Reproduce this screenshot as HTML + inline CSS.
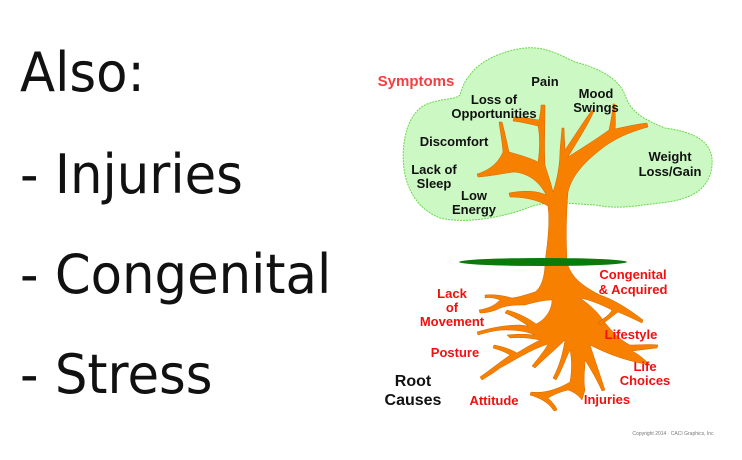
<!DOCTYPE html>
<html><head><style>
html,body{margin:0;padding:0;background:#fff;width:742px;height:460px;overflow:hidden}
.h{position:absolute;left:20px;font-family:"Comic Sans MS","DejaVu Sans",sans-serif;font-size:54px;color:#111;transform:scaleX(0.95);transform-origin:0 0;white-space:nowrap}
svg{position:absolute;left:0;top:0}
</style></head><body>
<div class="h" style="top:41px">Also:</div>
<div class="h" style="top:143px">- Injuries</div>
<div class="h" style="top:243px">- Congenital</div>
<div class="h" style="top:343px">- Stress</div>
<svg width="742" height="460" viewBox="0 0 742 460" font-family="Liberation Sans, sans-serif" font-weight="bold" font-size="13" text-anchor="middle">
<path d="M470,75 C480,60 505,50 525,48 C545,46 560,55 575,62 C600,68 620,80 625,95 C630,110 640,118 665,128 C695,132 714,142 712,165 C710,190 690,200 660,203 C640,205 620,210 595,205 C570,204 550,200 530,207 C510,215 470,225 440,218 C420,210 410,195 405,175 C400,150 405,115 425,105 C440,98 455,100 460,95 C462,88 465,80 470,75 Z" fill="#ccf8c4" stroke="#6ad84a" stroke-width="1" stroke-dasharray="2,1"/>
<g fill="#f78000" stroke="#d06800" stroke-width="0.5" stroke-linejoin="round">
<path d="M541,105 L545,105 C545,130 544,145 545,165 C548,175 551,183 553,192 C557,180 560,165 560,150 L562,128 L564,128 L565,150 C577,132 586,118 592,110 L594,111 C588,125 578,140 568,157 C582,148 595,140 609,130 C611,120 613,110 613,104 L615,104 C615,115 616,124 615,129 C628,126 638,124 647,123 L648,127 C630,132 615,138 600,150 C585,162 572,175 568,192 C566,215 566,240 567,262 L545,262 C548,240 550,222 548,206 C538,200 525,197 510,197 L509,193 C525,190 538,191 546,195 C540,182 528,173 514,172 C505,173 492,176 478,177 L477,174 C490,170 498,163 503,152 C502,140 500,130 499,122 L502,122 C505,133 507,143 509,152 C520,155 530,158 538,162 C540,150 540,135 538,126 C530,124 521,122 513,121 L514,117 C524,117 532,119 539,120 C540,115 541,110 541,105 Z"/>
<path d="M545,262 L567,262 C570,275 580,285 600,295 C615,300 630,310 643,320 L642,323 C632,318 625,315 618,312 C610,318 606,322 600,325 L598,322 C605,318 610,314 612,310 C600,304 590,300 580,298 C590,305 595,310 600,316 C610,330 620,340 630,345 C640,345 650,344 658,345 L657,348 C648,349 640,350 632,351 C640,355 645,360 650,365 C620,360 600,350 590,345 C595,360 600,375 605,390 L602,391 C596,378 590,368 585,360 C585,370 583,380 585,390 L582,400 C578,395 574,392 568,390 C560,392 555,394 548,398 C553,403 556,406 557,410 L554,411 C548,402 540,398 530,395 L531,392 C545,394 560,388 570,382 C572,370 572,360 570,350 C565,360 562,370 556,380 L553,378 C560,365 563,352 565,340 C555,350 545,358 535,368 L532,366 C540,356 545,350 548,344 C530,350 515,360 500,368 C495,372 490,375 482,380 L480,377 C490,370 500,362 510,355 C505,352 500,350 493,348 L494,345 C505,347 512,350 517,353 C525,348 532,344 540,340 C530,338 520,337 510,338 L507,335 C518,334 525,334 535,335 C528,332 520,330 505,330 C495,330 485,333 478,335 L477,332 C490,328 505,325 520,325 L528,326 C520,320 512,316 505,313 L507,310 C518,313 528,318 536,324 C545,320 552,310 552,300 C545,300 535,302 525,305 C515,305 505,305 496,310 C490,312 485,313 480,313 L479,310 C490,308 495,305 500,300 C495,298 490,297 485,298 L485,295 C495,294 505,296 512,298 C520,297 528,294 535,292 C542,287 545,275 545,262 Z"/>
</g>
<ellipse cx="543" cy="262" rx="84" ry="4" fill="#0a7a0a"/>
<g fill="#111">
<text x="545" y="86">Pain</text>
<text x="494" y="104">Loss of</text><text x="494" y="118">Opportunities</text>
<text x="596" y="98">Mood</text><text x="596" y="112">Swings</text>
<text x="454" y="146">Discomfort</text>
<text x="670" y="161">Weight</text><text x="670" y="176">Loss/Gain</text>
<text x="434" y="174">Lack of</text><text x="434" y="188">Sleep</text>
<text x="474" y="200">Low</text><text x="474" y="214">Energy</text>
<text x="413" y="386" font-size="16">Root</text><text x="413" y="405" font-size="16">Causes</text>
</g>
<g fill="#f01010">
<text x="416" y="86" font-size="15" fill="#f04040">Symptoms</text>
<text x="452" y="298">Lack</text><text x="452" y="312">of</text><text x="452" y="326">Movement</text>
<text x="633" y="279">Congenital</text><text x="633" y="294">&amp; Acquired</text>
<text x="631" y="339">Lifestyle</text>
<text x="455" y="357">Posture</text>
<text x="645" y="371">Life</text><text x="645" y="385">Choices</text>
<text x="494" y="405">Attitude</text>
<text x="607" y="404">Injuries</text>
</g>
<text x="673" y="435" font-size="5" font-weight="normal" fill="#777">Copyright 2014 · CACI Graphics, Inc</text>
</svg>
</body></html>
